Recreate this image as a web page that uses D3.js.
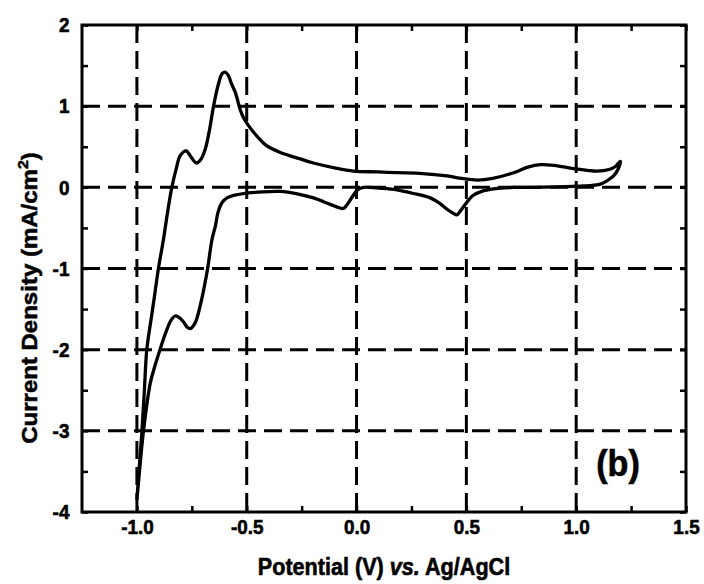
<!DOCTYPE html>
<html>
<head>
<meta charset="utf-8">
<script src="https://cdn.jsdelivr.net/npm/d3@7"></script>
<style>
  body { margin: 0; background: #fff; }
  svg { display: block; }
</style>
</head>
<body>
<div id="container"></div>
<script>
// CV data: forward (anodic) sweep, then the return sweep
const forwardE = [-1.000, -0.988, -0.977, -0.966, -0.955, -0.935, -0.922, -0.902, -0.879, -0.860,
  -0.841, -0.820, -0.803, -0.776, -0.755, -0.730, -0.710, -0.689, -0.670, -0.651, -0.630, -0.612,
  -0.598, -0.584, -0.570, -0.552, -0.530, -0.515, -0.492, -0.450, -0.408, -0.347, -0.256, -0.196,
  -0.100, -0.014, 0.100, 0.184, 0.300, 0.412, 0.480, 0.548, 0.620, 0.715, 0.780, 0.837, 0.900,
  0.988, 1.050, 1.095, 1.150, 1.180, 1.201];
const forwardJ = [-3.85, -3.40, -3.00, -2.50, -2.00, -1.62, -1.38, -1.00, -0.64, -0.30,
  0.00, 0.24, 0.39, 0.45, 0.38, 0.30, 0.34, 0.47, 0.70, 1.00, 1.26, 1.40,
  1.42, 1.38, 1.28, 1.17, 0.96, 0.86, 0.76, 0.62, 0.51, 0.43, 0.35, 0.30,
  0.24, 0.20, 0.19, 0.18, 0.17, 0.14, 0.11, 0.09, 0.11, 0.18, 0.25, 0.28, 0.27,
  0.23, 0.21, 0.20, 0.22, 0.26, 0.32];

const reverseE = [1.201, 1.190, 1.170, 1.140, 1.110, 1.060, 1.019, 0.900, 0.800, 0.715,
  0.624, 0.570, 0.530, 0.495, 0.470, 0.457, 0.440, 0.412, 0.380, 0.336, 0.250, 0.184,
  0.100, 0.032, 0.005, -0.020, -0.045, -0.060, -0.080, -0.120, -0.196, -0.270, -0.347,
  -0.450, -0.500, -0.560, -0.590, -0.613, -0.630, -0.643, -0.658, -0.678, -0.695, -0.712,
  -0.735, -0.757, -0.772, -0.790, -0.810, -0.826, -0.845, -0.870, -0.895, -0.918, -0.939,
  -0.970, -0.985, -1.000];
const reverseJ = [0.32, 0.22, 0.14, 0.08, 0.04, 0.02, 0.015, 0.005, 0.00, 0.00,
  -0.02, -0.05, -0.10, -0.21, -0.30, -0.34, -0.32, -0.27, -0.20, -0.13, -0.07, -0.03,
  -0.01, 0.00, -0.03, -0.12, -0.22, -0.26, -0.25, -0.21, -0.13, -0.08, -0.05,
  -0.06, -0.07, -0.10, -0.13, -0.19, -0.30, -0.48, -0.64, -1.00, -1.25, -1.46,
  -1.67, -1.74, -1.72, -1.65, -1.60, -1.585, -1.64, -1.80, -2.00, -2.20, -2.41,
  -3.00, -3.40, -3.85];

// axes
const xMajor = [-1.0, -0.5, 0.0, 0.5, 1.0, 1.5];
const xMinor = [-0.75, -0.25, 0.25, 0.75, 1.25];
const xTickLabels = ["-1.0", "-0.5", "0.0", "0.5", "1.0", "1.5"];
const yMajor = [-4, -3, -2, -1, 0, 1, 2];
const yMinor = [-3.5, -2.5, -1.5, -0.5, 0.5, 1.5];
const yTickLabels = ["-4", "-3", "-2", "-1", "0", "1", "2"];
const xGrid = [-1.0, -0.5, 0.0, 0.5, 1.0];
const yGrid = [-3, -2, -1, 0, 1];

const width = 704;
const height = 584;
const marginTop = 25;
const marginRight = 18;
const marginBottom = 72;
const marginLeft = 82;
const font = "'Liberation Sans', Arial, Helvetica, sans-serif";
const squeeze = "scale(0.9,1)"; // the original lettering is a bit narrow

const x = d3.scaleLinear()
    .domain([-1.25, 1.5])
    .range([marginLeft, width - marginRight]);

const y = d3.scaleLinear()
    .domain([-4, 2])
    .range([height - marginBottom, marginTop]);

const svg = d3.create("svg")
    .attr("width", width)
    .attr("height", height);

// dashed grid
svg.append("g")
    .selectAll("line")
    .data(xGrid)
    .join("line")
    .attr("x1", d => x(d)).attr("x2", d => x(d))
    .attr("y1", y(2)).attr("y2", y(-4))
    .attr("stroke", "#000")
    .attr("stroke-width", 3)
    .attr("stroke-dasharray", "18,8");

svg.append("g")
    .selectAll("line")
    .data(yGrid)
    .join("line")
    .attr("x1", x(-1.25)).attr("x2", x(1.5))
    .attr("y1", d => y(d)).attr("y2", d => y(d))
    .attr("stroke", "#000")
    .attr("stroke-width", 3)
    .attr("stroke-dasharray", "18,8");

// inward ticks on all four sides
const allX = xMajor.concat(xMinor);
const allY = yMajor.concat(yMinor);
const tickStyle = g => {
  g.select(".domain").remove();
  g.selectAll("line").attr("stroke", "#000").attr("stroke-width", 2.5);
};
svg.append("g")
    .attr("transform", `translate(0,${y(-4)})`)
    .call(d3.axisBottom(x).tickValues(allX).tickSize(-6).tickFormat(""))
    .call(tickStyle);
svg.append("g")
    .attr("transform", `translate(0,${y(2)})`)
    .call(d3.axisTop(x).tickValues(allX).tickSize(-6).tickFormat(""))
    .call(tickStyle);
svg.append("g")
    .attr("transform", `translate(${x(-1.25)},0)`)
    .call(d3.axisLeft(y).tickValues(allY).tickSize(-6).tickFormat(""))
    .call(tickStyle);
svg.append("g")
    .attr("transform", `translate(${x(1.5)},0)`)
    .call(d3.axisRight(y).tickValues(allY).tickSize(-6).tickFormat(""))
    .call(tickStyle);

// frame
svg.append("rect")
    .attr("x", x(-1.25))
    .attr("y", y(2))
    .attr("width", x(1.5) - x(-1.25))
    .attr("height", y(-4) - y(2))
    .attr("fill", "none")
    .attr("stroke", "#000")
    .attr("stroke-width", 3);

// tick labels (a hairline stroke makes them as heavy as the scanned ones)
const labelStyle = g => {
  g.select(".domain").remove();
  g.selectAll("text")
    .attr("fill", "#000")
    .attr("stroke", "#000")
    .attr("stroke-width", 0.6)
    .attr("transform", squeeze)
    .style("font-family", font)
    .style("font-weight", "bold")
    .style("font-size", "21px");
};
svg.append("g")
    .attr("transform", `translate(0,${y(-4)})`)
    .call(d3.axisBottom(x).tickValues(xMajor).tickSize(0).tickPadding(7)
      .tickFormat((d, i) => xTickLabels[i]))
    .call(labelStyle);
svg.append("g")
    .attr("transform", `translate(${x(-1.25)},0)`)
    .call(d3.axisLeft(y).tickValues(yMajor).tickSize(0).tickPadding(14)
      .tickFormat((d, i) => yTickLabels[i]))
    .call(labelStyle);

// the voltammogram
const points = forwardE.map((e, i) => [e, forwardJ[i]])
    .concat(reverseE.map((e, i) => [e, reverseJ[i]]).slice(1));

const line = d3.line()
    .x(d => x(d[0]))
    .y(d => y(d[1]))
    .curve(d3.curveCatmullRom.alpha(0.5));

svg.append("path")
    .datum(points)
    .attr("fill", "none")
    .attr("stroke", "#000")
    .attr("stroke-width", 3.3)
    .attr("stroke-linejoin", "round")
    .attr("d", line);

// axis titles
const xTitle = svg.append("text")
    .attr("transform", `translate(${(x(-1.25) + x(1.5)) / 2},575) ${squeeze}`)
    .attr("text-anchor", "middle")
    .attr("stroke", "#000")
    .attr("stroke-width", 0.6)
    .style("font-family", font)
    .style("font-weight", "bold")
    .style("font-size", "24px");
xTitle.append("tspan").text("Potential (V) ");
xTitle.append("tspan").style("font-style", "italic").text("vs.");
xTitle.append("tspan").text(" Ag/AgCl");

const yTitle = svg.append("text")
    .attr("transform", `translate(37,298) ${squeeze} rotate(-90)`)
    .attr("text-anchor", "middle")
    .attr("stroke", "#000")
    .attr("stroke-width", 0.6)
    .style("font-family", font)
    .style("font-weight", "bold")
    .style("font-size", "24px");
yTitle.append("tspan").text("Current Density (mA/cm");
yTitle.append("tspan").attr("dy", -10).style("font-size", "16px").text("2");
yTitle.append("tspan").attr("dy", 10).text(")");

// panel letter
svg.append("text")
    .attr("transform", `translate(618,476) scale(0.95,1)`)
    .attr("text-anchor", "middle")
    .attr("stroke", "#000")
    .attr("stroke-width", 0.6)
    .style("font-family", font)
    .style("font-weight", "bold")
    .style("font-size", "36px")
    .text("(b)");

container.append(svg.node());
</script>
</body>
</html>
